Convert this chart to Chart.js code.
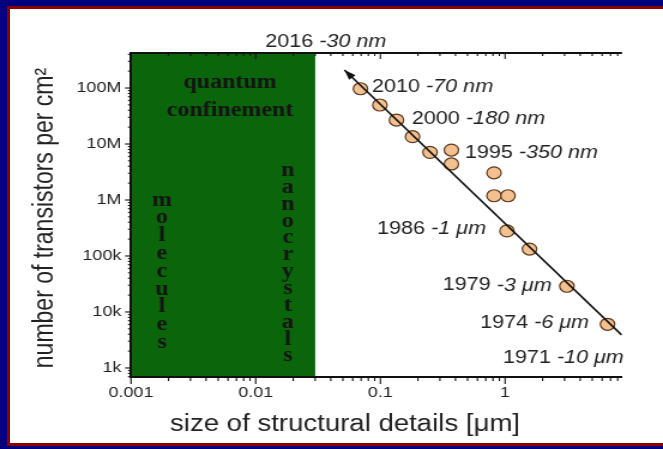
<!DOCTYPE html>
<html>
<head>
<meta charset="utf-8">
<script src="https://cdn.jsdelivr.net/npm/chart.js@4.4.1/dist/chart.umd.min.js"></script>
<style>
  html, body { margin: 0; padding: 0; width: 663px; height: 449px; overflow: hidden; background: #00007e; }
  #frame { position: absolute; left: 7px; top: 6px; width: 656px; height: 440px; background: #8a0000; }
  #paper { position: absolute; left: 10px; top: 9px; width: 653px; height: 434px; background: #ffffff; }
  #wrap { position: absolute; left: 0; top: 0; width: 553px; height: 449px; transform: scaleX(1.19892); transform-origin: 0 0; }
</style>
</head>
<body>
<div id="frame"></div>
<div id="paper"></div>
<div id="wrap"><canvas id="c" width="553" height="449"></canvas></div>
<script>
// Feature size (µm) and transistor density (per cm²) of chip generations
const sizesUm = [0.0692, 0.099, 0.1345, 0.181, 0.25, 0.371, 0.371, 0.815, 0.815, 1.055, 1.035, 1.57, 3.13, 6.63];
const transistorsPerCm2 = [9.7e7, 4.97e7, 2.68e7, 1.35e7, 7.1e6, 7.8e6, 4.4e6, 3.06e6, 1.19e6, 1.19e6, 2.8e5, 1.33e5, 2.88e4, 6.03e3];

// Trend line end points (arrow at the small-size end)
const trendSizes = [0.0515, 8.6];
const trendCounts = [2.1e8, 3.9e3];

// Axis ticks
const xTickValues = [0.001, 0.01, 0.1, 1];
const xTickLabels = ['0.001', '0.01', '0.1', '1'];
const yTickValues = [1e3, 1e4, 1e5, 1e6, 1e7, 1e8];
const yTickLabels = ['1k', '10k', '100k', '1M', '10M', '100M'];

// Technology-node annotations
const nodeYears = ['2016', '2010', '2000', '1995', '1986', '1979', '1974', '1971'];
const nodeSizes = ['-30 nm', '-70 nm', '-180 nm', '-350 nm', '-1 μm', '-3 μm', '-6 μm', '-10 μm'];
const nodeLabelX = [0.0119, 0.0857, 0.179, 0.476, 0.094, 0.316, 0.63, 0.96];
const nodeLabelY = [6.6e8, 1.04e8, 2.79e7, 7.0e6, 3.03e5, 2.97e4, 6.44e3, 1.51e3];

// Quantum-confinement region (µm)
const regionLimits = [0.001, 0.03];

const xTitle = 'size of structural details [μm]';
const yTitle = 'number of transistors per cm²';

const STRETCH = 663 / 553;

function minorValues(min, max) {
  const out = [];
  for (let e = Math.floor(Math.log10(min)); e <= Math.ceil(Math.log10(max)); e++) {
    for (let m = 1; m <= 9; m++) {
      const v = m * Math.pow(10, e);
      if (v >= min && v <= max) out.push({ v, major: m === 1 });
    }
  }
  return out;
}

const decoration = {
  id: 'decoration',
  beforeDraw(chart) {
    const { ctx, chartArea: a, scales: { x, y } } = chart;
    ctx.save();
    // green region
    const x0 = x.getPixelForValue(regionLimits[0]);
    const x1 = x.getPixelForValue(regionLimits[1]);
    ctx.fillStyle = '#0b650b';
    ctx.fillRect(x0, a.top, x1 - x0, a.bottom - a.top);

    ctx.fillStyle = '#141414';
    ctx.font = 'bold 20px "Liberation Serif"';
    ctx.textAlign = 'center';
    ctx.textBaseline = 'alphabetic';
    const cx = x.getPixelForValue(0.00622);
    ctx.fillText('quantum', cx, 88);
    ctx.fillText('confinement', cx, 116);
    const mx = x.getPixelForValue(0.00177);
    'molecules'.split('').forEach((ch, i) => ctx.fillText(ch, mx, 205.5 + i * 17.8));
    const nx = x.getPixelForValue(0.0181);
    'nanocrystals'.split('').forEach((ch, i) => ctx.fillText(ch, nx, 176 + i * 16.85));
    ctx.restore();
  },
  beforeDatasetsDraw(chart) {
    const { ctx, chartArea: a, scales: { x, y } } = chart;
    ctx.save();
    ctx.strokeStyle = '#111';
    // top frame line
    ctx.lineWidth = 2;
    ctx.beginPath();
    ctx.moveTo(a.left - 1, a.top);
    ctx.lineTo(a.right, a.top);
    ctx.stroke();
    // x ticks (bottom outward, top inward)
    ctx.lineWidth = 1.1;
    minorValues(x.min, x.max).forEach(({ v, major }) => {
      const px = x.getPixelForValue(v);
      ctx.beginPath();
      ctx.moveTo(px, a.bottom);
      ctx.lineTo(px, a.bottom + (major ? 7 : 4));
      ctx.moveTo(px, a.top);
      ctx.lineTo(px, a.top + (major ? 6 : 3));
      ctx.stroke();
    });
    // y ticks (outward)
    minorValues(y.min, y.max).forEach(({ v, major }) => {
      const py = y.getPixelForValue(v);
      ctx.beginPath();
      ctx.moveTo(a.left, py);
      ctx.lineTo(a.left - (major ? 5 : 2.5), py);
      ctx.stroke();
    });
    ctx.restore();
  },
  afterDatasetsDraw(chart) {
    const { ctx, scales: { x, y } } = chart;
    ctx.save();
    // arrow head on the trend line
    const pts = chart.getDatasetMeta(0).data;
    const tip = pts[0], tail = pts[1];
    const dx = tip.x - tail.x, dy = tip.y - tail.y;
    const L = Math.hypot(dx, dy);
    const ux = dx / L, uy = dy / L;
    const len = 10, hw = 3.6;
    const bx = tip.x - ux * len, by = tip.y - uy * len;
    ctx.fillStyle = '#111';
    ctx.beginPath();
    ctx.moveTo(tip.x, tip.y);
    ctx.lineTo(bx - uy * hw, by + ux * hw);
    ctx.lineTo(bx + uy * hw, by - ux * hw);
    ctx.closePath();
    ctx.fill();

    // node annotations
    ctx.fillStyle = '#222';
    ctx.textBaseline = 'middle';
    ctx.textAlign = 'left';
    nodeYears.forEach((yr, i) => {
      let px = x.getPixelForValue(nodeLabelX[i]);
      const py = y.getPixelForValue(nodeLabelY[i]);
      ctx.font = '18px "Liberation Sans"';
      ctx.fillText(yr, px, py);
      px += ctx.measureText(yr + ' ').width;
      ctx.font = 'italic 18px "Liberation Sans"';
      ctx.fillText(nodeSizes[i], px, py);
    });

    // axis titles
    ctx.font = '23px "Liberation Sans"';
    ctx.textAlign = 'center';
    ctx.fillText(xTitle, 345 / STRETCH, 425);
    ctx.translate(37.5, 218);
    ctx.rotate(-Math.PI / 2);
    ctx.fillText(yTitle, 0, 0);
    ctx.restore();
  }
};

new Chart(document.getElementById('c'), {
  type: 'scatter',
  data: {
    datasets: [
      {
        label: 'trend',
        data: trendSizes.map((v, i) => ({ x: v, y: trendCounts[i] })),
        showLine: true,
        borderColor: '#111',
        borderWidth: 1.6,
        pointRadius: 0,
        order: 0
      },
      {
        label: 'nodes',
        data: sizesUm.map((v, i) => ({ x: v, y: transistorsPerCm2[i] })),
        pointRadius: 6,
        pointBackgroundColor: '#f3c18f',
        pointBorderColor: '#5c3b1e',
        pointBorderWidth: 1.2,
        order: 1
      }
    ]
  },
  options: {
    responsive: false,
    animation: false,
    devicePixelRatio: 1,
    layout: { padding: { left: 8, right: 34.2, top: 53, bottom: 6 } },
    plugins: { legend: { display: false }, tooltip: { enabled: false } },
    scales: {
      x: {
        type: 'logarithmic',
        min: 0.001,
        max: 8.66,
        afterBuildTicks: s => { s.ticks = xTickValues.map(v => ({ value: v })); },
        afterFit: s => { s.height = 66; },
        grid: { display: false, drawTicks: false },
        border: { display: true, color: '#111', width: 2 },
        ticks: {
          padding: 7, autoSkip: false, maxRotation: 0, color: '#222',
          font: { family: 'Liberation Sans', size: 15 },
          callback: (v, i) => xTickLabels[i]
        }
      },
      y: {
        type: 'logarithmic',
        min: 690,
        max: 4.22e8,
        afterBuildTicks: s => { s.ticks = yTickValues.map(v => ({ value: v })); },
        afterFit: s => { s.width = 101.26; },
        grid: { display: false, drawTicks: false },
        border: { display: true, color: '#111', width: 2 },
        ticks: {
          padding: 8, autoSkip: false, color: '#222',
          font: { family: 'Liberation Sans', size: 15 },
          callback: (v, i) => yTickLabels[i]
        }
      }
    }
  },
  plugins: [decoration]
});
</script>
</body>
</html>
